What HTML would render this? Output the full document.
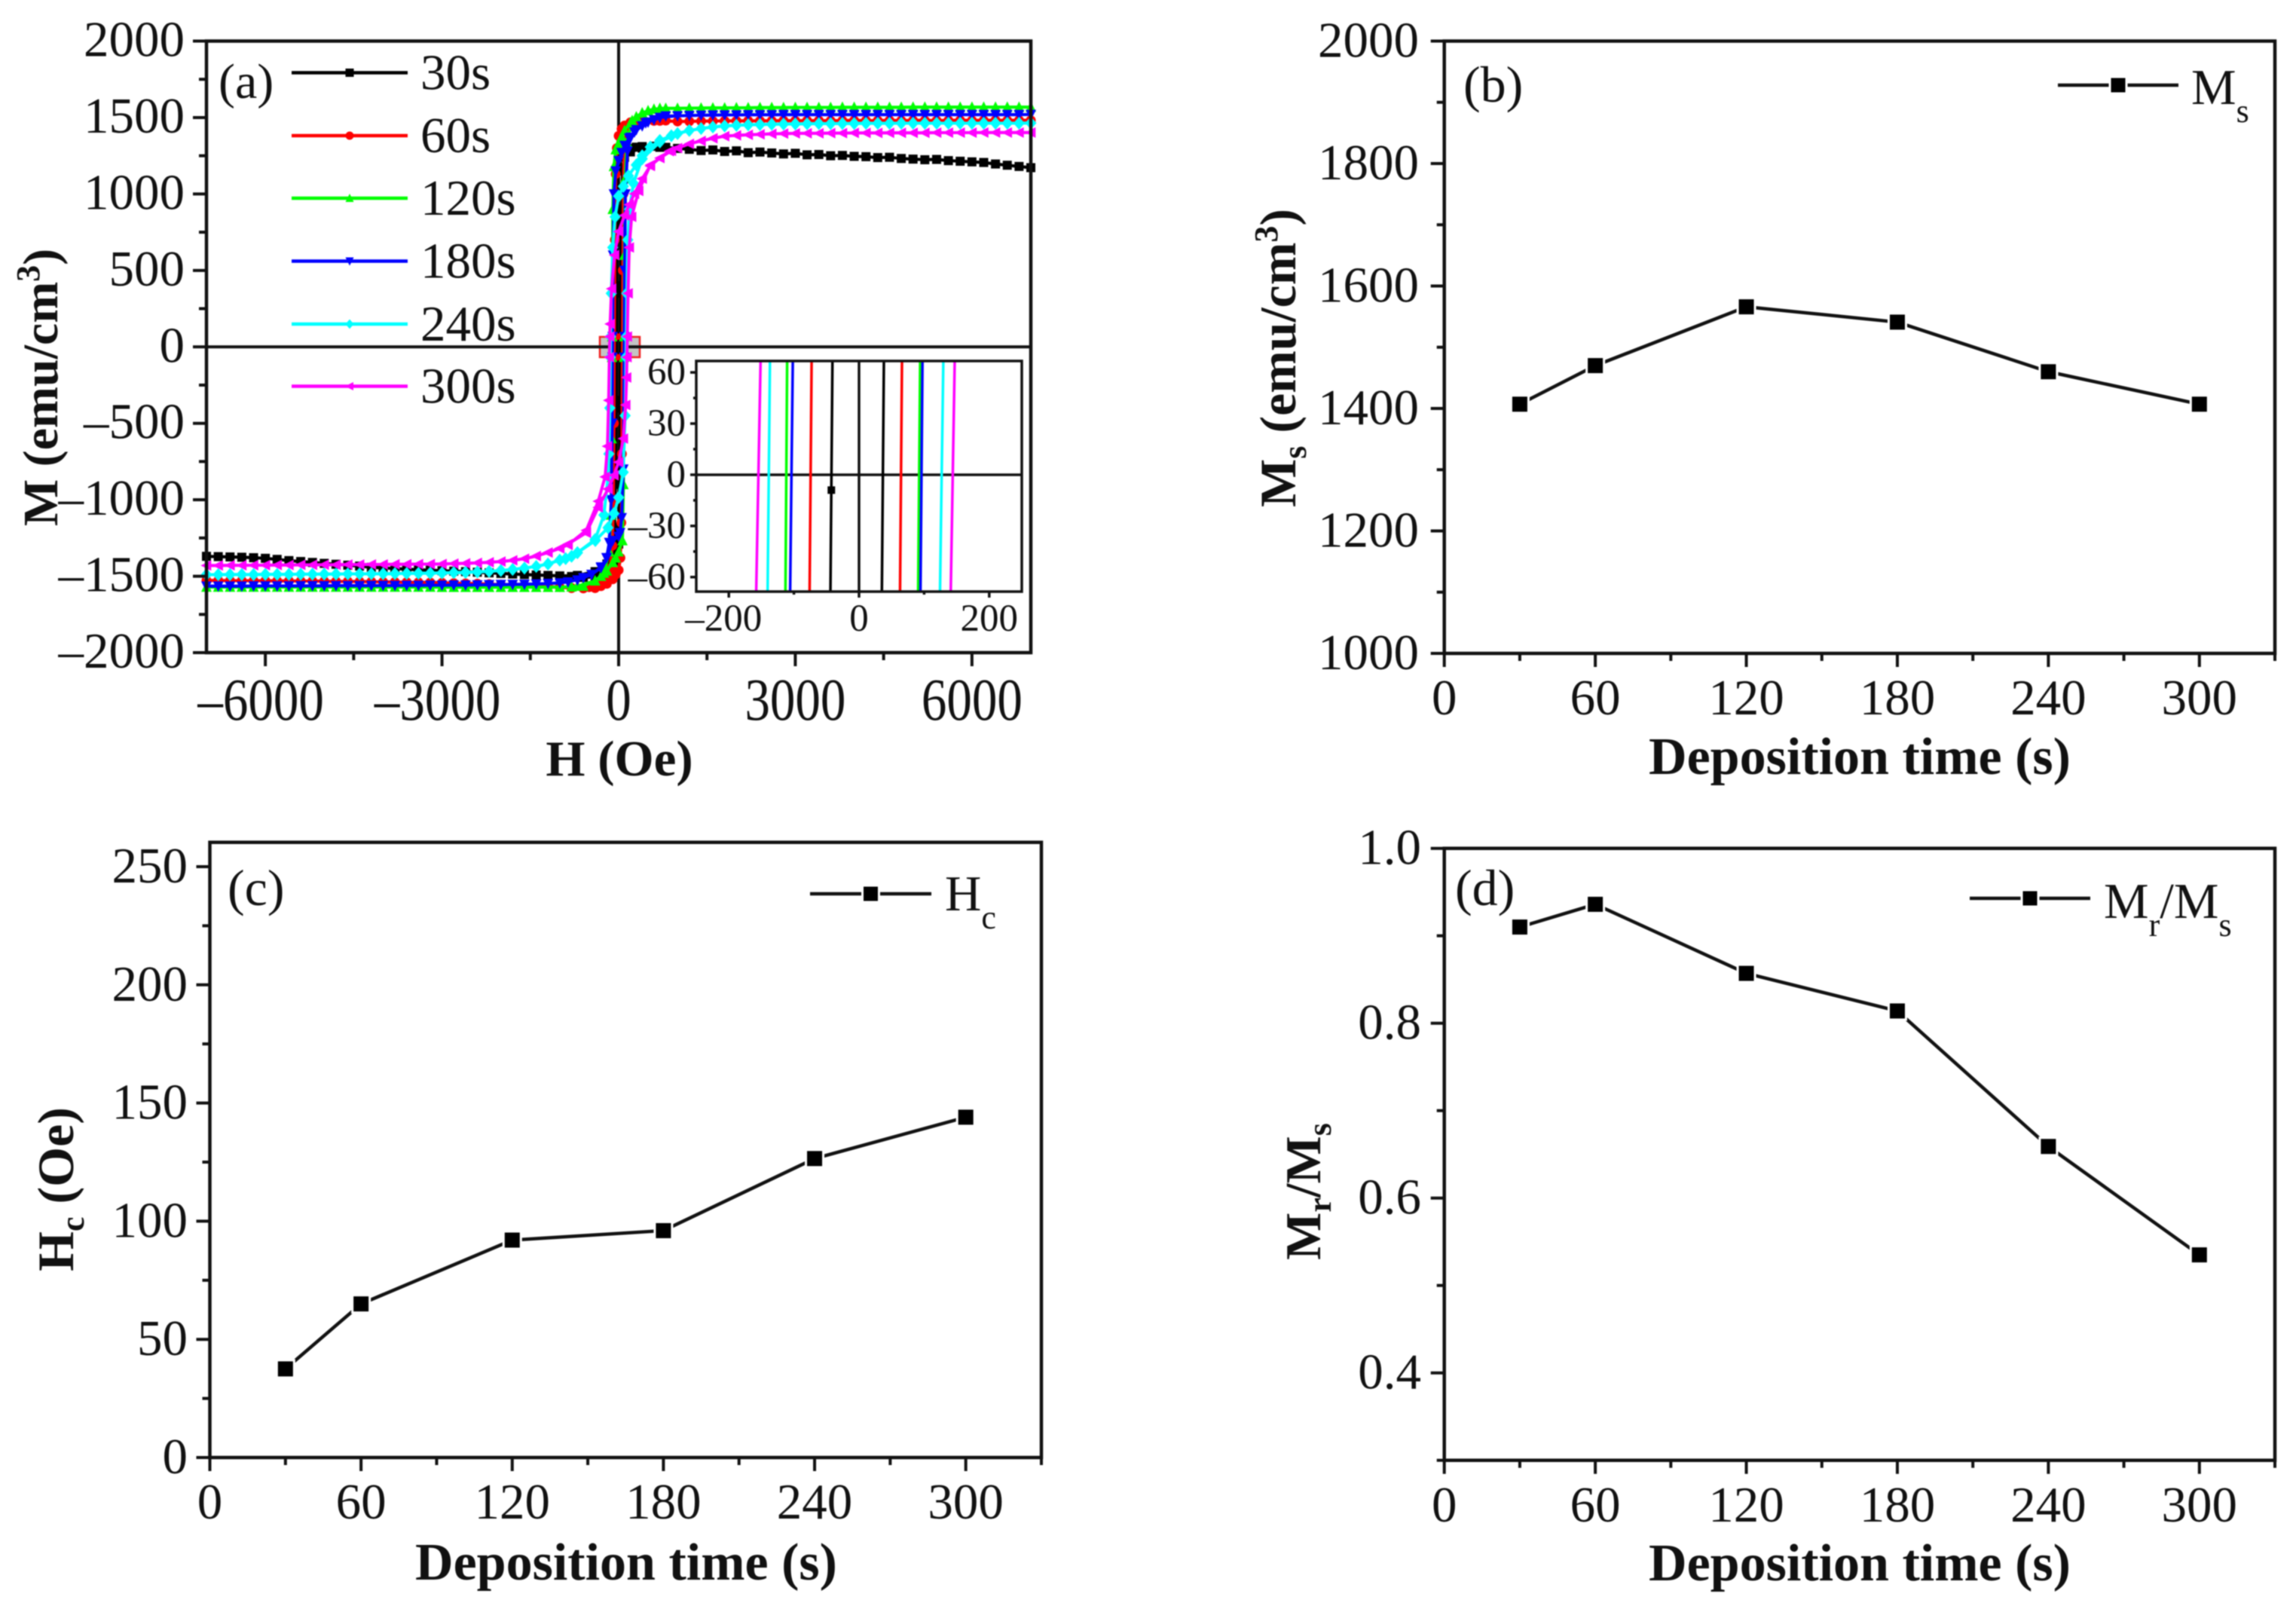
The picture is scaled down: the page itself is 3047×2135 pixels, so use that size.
<!DOCTYPE html>
<html lang="en">
<head>
<meta charset="utf-8">
<title>Magnetic properties versus deposition time</title>
<style>
html,body{margin:0;padding:0;background:#fff;width:3047px;height:2135px;overflow:hidden;}
svg{display:block;}
#figure{filter:blur(0.7px);}
text{font-family:"Liberation Serif","DejaVu Serif",serif;fill:#111;}
</style>
</head>
<body>
<svg id="figure" xmlns="http://www.w3.org/2000/svg" width="3047" height="2135" viewBox="0 0 3047 2135">
<rect x="0" y="0" width="3047" height="2135" fill="#fff"/>
<g id="panel-a"></g>
<g id="panel-b"></g>
<g id="panel-c"></g>
<g id="panel-d"></g>

<text transform="translate(76,514) rotate(-90)" text-anchor="middle" font-weight="bold" font-size="66">M (emu/cm<tspan dy="-24" font-size="44">3</tspan><tspan dy="24">)</tspan></text>
<text x="822" y="1029" text-anchor="middle" font-weight="bold" font-size="67">H (Oe)</text>
<text x="290" y="130" font-size="66">(a)</text>

<text transform="translate(1719,475) rotate(-90)" text-anchor="middle" font-weight="bold" font-size="68">M<tspan dy="14" font-size="44">s</tspan><tspan dy="-14"> (emu/cm</tspan><tspan dy="-24" font-size="44">3</tspan><tspan dy="24">)</tspan></text>
<text x="2468" y="1027" text-anchor="middle" font-weight="bold" font-size="70">Deposition time (s)</text>
<text x="1942" y="135" font-size="68">(b)</text>
<text x="2908" y="138" font-size="67">M<tspan dy="24" font-size="44">s</tspan></text>

<text transform="translate(97,1578) rotate(-90)" text-anchor="middle" font-weight="bold" font-size="68">H<tspan dy="14" font-size="44">c</tspan><tspan dy="-14"> (Oe)</tspan></text>
<text x="831" y="2096" text-anchor="middle" font-weight="bold" font-size="70">Deposition time (s)</text>
<text x="302" y="1201" font-size="68">(c)</text>
<text x="1254" y="1208" font-size="67">H<tspan dy="24" font-size="44">c</tspan></text>

<text transform="translate(1752,1581) rotate(-90)" text-anchor="middle" font-weight="bold" font-size="67">M<tspan dy="14" font-size="44">r</tspan><tspan dy="-14">/M</tspan><tspan dy="14" font-size="44">s</tspan></text>
<text x="2468" y="2097" text-anchor="middle" font-weight="bold" font-size="70">Deposition time (s)</text>
<text x="1931" y="1201" font-size="68">(d)</text>
<text x="2792" y="1218" font-size="67">M<tspan dy="24" font-size="44">r</tspan><tspan dy="-24">/M</tspan><tspan dy="24" font-size="44">s</tspan></text>
</svg>

<script>
/* ---------- panel (b)(c)(d) data ---------- */
const depositionTimes = [30, 60, 120, 180, 240, 300];
const msValues = [1407, 1470, 1566, 1541, 1460, 1407];
const hcValues = [37.5, 65, 92, 96, 126.5, 144];
const ratioValues = [0.91, 0.936, 0.857, 0.814, 0.659, 0.535];

const timeTicks = [0, 60, 120, 180, 240, 300];
const timeTickLabels = ['0', '60', '120', '180', '240', '300'];
const timeMinorTicks = [30, 90, 150, 210, 270, 330];

const msTicks = [1000, 1200, 1400, 1600, 1800, 2000];
const msTickLabels = ['1000', '1200', '1400', '1600', '1800', '2000'];
const msMinorTicks = [1100, 1300, 1500, 1700, 1900];

const hcTicks = [0, 50, 100, 150, 200, 250];
const hcTickLabels = ['0', '50', '100', '150', '200', '250'];
const hcMinorTicks = [25, 75, 125, 175, 225];

const ratioTicks = [0.4, 0.6, 0.8, 1.0];
const ratioTickLabels = ['0.4', '0.6', '0.8', '1.0'];
const ratioMinorTicks = [0.3, 0.5, 0.7, 0.9];

/* ---------- panel (a) axes data ---------- */
const fieldTicks = [-6000, -3000, 0, 3000, 6000];
const fieldTickLabels = ['–6000', '–3000', '0', '3000', '6000'];
const fieldMinorTicks = [-4500, -1500, 1500, 4500];
const momentTicks = [-2000, -1500, -1000, -500, 0, 500, 1000, 1500, 2000];
const momentTickLabels = ['–2000', '–1500', '–1000', '–500', '0', '500', '1000', '1500', '2000'];
const momentMinorTicks = [-1750, -1250, -750, -250, 250, 750, 1250, 1750];

const insetFieldTicks = [-200, 0, 200];
const insetFieldTickLabels = ['–200', '0', '200'];
const insetFieldMinorTicks = [-100, 100];
const insetMomentTicks = [-60, -30, 0, 30, 60];
const insetMomentTickLabels = ['–60', '–30', '0', '30', '60'];
const insetMomentMinorTicks = [-45, -15, 15, 45];
const insetMarkerPoint = [-42.5, -9];

/* ---------- panel (a) hysteresis data ---------- */
const sampleNames = ['30s', '60s', '120s', '180s', '240s', '300s'];

const satFieldPos = [1000,1200,1400,1600,1800,2000,2200,2400,2600,2800,3000,3200,3400,3600,3800,4000,4200,4400,4600,4800,5000,5200,5400,5600,5800,6000,6200,6400,6600,6800,7000];
const satFieldNeg = [-7000,-6800,-6600,-6400,-6200,-6000,-5800,-5600,-5400,-5200,-5000,-4800,-4600,-4400,-4200,-4000,-3800,-3600,-3400,-3200,-3000,-2800,-2600,-2400,-2200,-2000,-1800,-1600,-1400,-1200,-1000];

const satPos30 = [1298,1292,1284,1288,1278,1282,1270,1274,1268,1262,1266,1256,1258,1250,1252,1246,1244,1238,1240,1232,1228,1224,1226,1218,1214,1210,1206,1196,1188,1180,1172];
const satPos60 = [1474,1475,1476,1477,1478,1478,1479,1478,1479,1480,1479,1480,1480,1479,1480,1481,1480,1480,1481,1480,1481,1481,1480,1481,1482,1481,1481,1482,1481,1482,1482];
const satPos120 = [1560,1561,1562,1563,1563,1564,1564,1565,1565,1565,1566,1566,1566,1566,1567,1567,1567,1567,1567,1567,1568,1568,1568,1568,1568,1568,1568,1568,1568,1568,1568];
const satPos180 = [1511,1513,1515,1516,1517,1517,1518,1518,1518,1519,1519,1519,1519,1519,1519,1519,1519,1519,1519,1519,1519,1519,1519,1519,1519,1519,1519,1519,1519,1519,1520];
const satPos240 = [1395,1415,1428,1438,1445,1449,1452,1454,1456,1457,1458,1459,1460,1460,1461,1461,1462,1462,1462,1463,1463,1463,1463,1463,1463,1463,1463,1463,1463,1463,1464];
const satPos300 = [1300,1328,1347,1364,1378,1383,1387,1390,1393,1395,1396,1397,1397,1398,1398,1399,1399,1399,1400,1400,1400,1400,1401,1401,1401,1401,1402,1402,1402,1402,1402];

const satNeg30 = [-1370,-1372,-1374,-1376,-1379,-1383,-1390,-1398,-1404,-1410,-1416,-1422,-1428,-1434,-1442,-1446,-1450,-1454,-1458,-1461,-1464,-1467,-1470,-1474,-1478,-1482,-1486,-1489,-1492,-1495,-1498];
const satNeg60 = [-1528,-1528,-1529,-1529,-1530,-1530,-1531,-1531,-1532,-1532,-1533,-1534,-1534,-1535,-1536,-1537,-1538,-1539,-1540,-1541,-1543,-1545,-1547,-1549,-1552,-1555,-1558,-1561,-1564,-1568,-1572];
const satNeg120 = [-1571,-1571,-1571,-1571,-1571,-1571,-1571,-1571,-1571,-1571,-1571,-1571,-1571,-1571,-1571,-1571,-1571,-1571,-1571,-1571,-1572,-1572,-1572,-1572,-1572,-1572,-1572,-1572,-1572,-1572,-1572];
const satNeg180 = [-1565,-1565,-1565,-1565,-1564,-1564,-1564,-1564,-1563,-1563,-1563,-1562,-1562,-1562,-1561,-1561,-1561,-1560,-1560,-1559,-1559,-1558,-1558,-1557,-1556,-1555,-1554,-1553,-1551,-1548,-1544];
const satNeg240 = [-1490,-1490,-1489,-1489,-1489,-1488,-1488,-1488,-1487,-1487,-1486,-1486,-1485,-1485,-1484,-1484,-1483,-1482,-1481,-1480,-1479,-1477,-1475,-1472,-1468,-1463,-1456,-1447,-1436,-1420,-1395];
const satNeg300 = [-1430,-1430,-1429,-1429,-1428,-1428,-1427,-1427,-1426,-1426,-1425,-1425,-1424,-1424,-1423,-1423,-1422,-1422,-1421,-1421,-1420,-1418,-1416,-1413,-1409,-1404,-1396,-1386,-1368,-1345,-1318];

const loopUpper30 = [[800,1305],[600,1312],[400,1310],[300,1306],[200,1298],[100,1285],[50,1282],[0,1278],[-20,1180],[-32,800],[-38,350],[-40.8,67],[-43.9,-68],[-47,-400],[-55,-900],[-70,-1200],[-100,-1330],[-200,-1420],[-400,-1470],[-700,-1495]];
const loopLower30 = [[-800,-1502],[-600,-1508],[-400,-1505],[-300,-1500],[-200,-1480],[-100,-1420],[-50,-1370],[0,-1290],[15,-1180],[27,-800],[33,-350],[35.1,-68],[38.2,67],[41,400],[50,900],[65,1150],[100,1240],[200,1275],[400,1300],[700,1305]];
const loopUpper60 = [[800,1480],[600,1478],[400,1476],[300,1472],[200,1468],[100,1448],[50,1425],[0,1380],[-30,1300],[-50,1130],[-65,700],[-72.8,67],[-75.9,-68],[-80,-500],[-90,-1000],[-105,-1300],[-150,-1450],[-200,-1510],[-300,-1550],[-500,-1572],[-800,-1576]];
const loopLower60 = [[-800,-1578],[-600,-1580],[-400,-1578],[-300,-1565],[-200,-1550],[-100,-1520],[-50,-1490],[0,-1460],[30,-1380],[45,-1150],[55,-700],[63,-68],[66,67],[71,500],[80,1000],[95,1300],[140,1440],[200,1468],[400,1474],[700,1478]];
const loopUpper120 = [[800,1560],[600,1555],[500,1545],[400,1530],[300,1505],[200,1465],[100,1415],[50,1375],[0,1331],[-50,1290],[-80,1180],[-100,900],[-110.4,67],[-113,-68],[-118,-600],[-130,-1100],[-160,-1340],[-250,-1480],[-400,-1530],[-700,-1565]];
const loopLower120 = [[-800,-1570],[-600,-1565],[-400,-1530],[-300,-1500],[-200,-1465],[-100,-1410],[-50,-1380],[0,-1340],[64,-1267],[82,-900],[90.8,-68],[93.9,67],[98,600],[110,1100],[140,1340],[230,1480],[400,1530],[700,1560]];
const loopUpper180 = [[800,1510],[600,1485],[500,1470],[400,1445],[268,1405],[180,1365],[102,1317],[50,1270],[0,1218],[-50,1150],[-80,1000],[-95,600],[-101.7,67],[-105.8,-68],[-110,-500],[-125,-1000],[-160,-1280],[-205,-1380],[-300,-1445],[-460,-1489],[-700,-1525]];
const loopLower180 = [[-860,-1538],[-600,-1510],[-460,-1489],[-300,-1440],[-205,-1380],[-100,-1267],[0,-1240],[25,-1216],[51,-1118],[80,-800],[94.4,-68],[97.5,67],[102,500],[115,1000],[150,1280],[205,1370],[300,1420],[460,1465],[700,1500]];
const loopUpper240 = [[895,1381],[700,1350],[537,1307],[400,1250],[300,1190],[166,1119],[80,1050],[0,986],[-60,850],[-100,650],[-125,350],[-136.8,67],[-140.4,-68],[-150,-400],[-165,-700],[-180,-850],[-250,-1100],[-400,-1260],[-700,-1346],[-900,-1385]];
const loopLower240 = [[-800,-1370],[-700,-1346],[-396,-1267],[-180,-1183],[-80,-1090],[0,-985],[77,-820],[110,-450],[124.4,-68],[129.5,67],[138,350],[155,700],[185,900],[250,1070],[400,1230],[700,1340]];
const loopUpper300 = [[895,1282],[700,1235],[537,1183],[400,1100],[268,1001],[180,930],[100,860],[0,754],[-70,600],[-120,380],[-145,150],[-151.2,67],[-157.9,-68],[-170,-350],[-190,-650],[-230,-850],[-347,-1010],[-550,-1200],[-860,-1295]];
const loopLower300 = [[-860,-1290],[-550,-1216],[-347,-1050],[-180,-930],[-80,-840],[0,-754],[80,-600],[120,-380],[135,-200],[140.9,-68],[147,67],[160,350],[180,650],[220,850],[340,1020],[540,1190],[860,1280]];

const satPosSeries = [satPos30, satPos60, satPos120, satPos180, satPos240, satPos300];
const satNegSeries = [satNeg30, satNeg60, satNeg120, satNeg180, satNeg240, satNeg300];
const loopUpperSeries = [loopUpper30, loopUpper60, loopUpper120, loopUpper180, loopUpper240, loopUpper300];
const loopLowerSeries = [loopLower30, loopLower60, loopLower120, loopLower180, loopLower240, loopLower300];
const sampleColors = ['#000000', '#ff0000', '#00ff00', '#0000ff', '#00ffff', '#ff00ff'];
const sampleShapes = ['square', 'circle', 'up', 'down', 'diamond', 'left'];

/* ---------- helpers ---------- */
const SVG_NS = document.getElementById('figure').namespaceURI;
const INK = '#111';
const MARKER_SIZE = {square: 12, circle: 13, up: 14, down: 14, diamond: 15, left: 14};

function linear(d0, d1, r0, r1) {
  return function (v) { return r0 + (v - d0) * (r1 - r0) / (d1 - d0); };
}
function create(tag, attrs, parent) {
  const el = document.createElementNS(SVG_NS, tag);
  for (const k in attrs) el.setAttribute(k, attrs[k]);
  parent.appendChild(el);
  return el;
}
function drawLine(parent, name, x1, y1, x2, y2, width, color) {
  const el = create('line', {x1: x1, y1: y1, x2: x2, y2: y2, stroke: color || INK, 'stroke-width': width}, parent);
  
  
  return el;
}
function drawText(parent, name, x, y, str, size, anchor, stretch) {
  const el = create('text', {'font-size': size, 'text-anchor': anchor, transform: 'translate(' + x + ',' + y + ') scale(1,' + (stretch || 1) + ')'}, parent);
  el.textContent = str;
  
  
  return el;
}
function drawFrame(parent, name, x0, y0, x1, y1, width, fill) {
  const el = create('rect', {x: x0, y: y0, width: x1 - x0, height: y1 - y0, fill: fill || 'none', stroke: INK, 'stroke-width': width}, parent);
  
  
  return el;
}
function drawPolyline(parent, name, pts, color, width) {
  const el = create('polyline', {points: pts.map(function (p) { return p[0].toFixed(2) + ',' + p[1].toFixed(2); }).join(' '), fill: 'none', stroke: color, 'stroke-width': width, 'stroke-linejoin': 'round'}, parent);
  
  
  return el;
}
function drawMarker(parent, name, shape, cx, cy, s, color, halo) {
  let el;
  const h = s / 2;
  if (shape === 'square') {
    el = create('rect', {x: cx - h, y: cy - h, width: s, height: s, fill: color}, parent);
  } else if (shape === 'circle') {
    el = create('circle', {cx: cx, cy: cy, r: h, fill: color}, parent);
  } else {
    let p;
    if (shape === 'up') p = [[cx, cy - h * 1.1], [cx + h, cy + h * 0.9], [cx - h, cy + h * 0.9]];
    else if (shape === 'down') p = [[cx, cy + h * 1.1], [cx + h, cy - h * 0.9], [cx - h, cy - h * 0.9]];
    else if (shape === 'left') p = [[cx - h * 1.1, cy], [cx + h * 0.9, cy - h], [cx + h * 0.9, cy + h]];
    else p = [[cx, cy - h * 1.15], [cx + h, cy], [cx, cy + h * 1.15], [cx - h, cy]];
    el = create('polygon', {points: p.map(function (q) { return q[0].toFixed(2) + ',' + q[1].toFixed(2); }).join(' '), fill: color}, parent);
  }
  if (halo) {
    el.setAttribute('stroke', '#fff');
    el.setAttribute('stroke-width', halo);
  }
  
  
  return el;
}
function drawAxes(parent, prefix, o) {
  o.xMajor.forEach(function (v, i) {
    const x = o.sx(v);
    drawLine(parent, prefix + '-x-tick', x, o.bottom, x, o.bottom + o.majorLen, o.tickWidth);
    const lab = o.xLabels[i];
    const shift = lab.charAt(0) === '–' ? o.dashShift : 0;
    drawText(parent, prefix + '-x-tick-label', x + shift, o.xBaseline, lab, o.fontSize, 'middle', o.xStretch);
  });
  o.xMinor.forEach(function (v) {
    const x = o.sx(v);
    drawLine(parent, prefix + '-x-minor-tick', x, o.bottom, x, o.bottom + o.minorLen, o.tickWidth);
  });
  o.yMajor.forEach(function (v, i) {
    const y = o.sy(v);
    drawLine(parent, prefix + '-y-tick', o.left - o.majorLen, y, o.left, y, o.tickWidth);
    drawText(parent, prefix + '-y-tick-label', o.labelRight, y + o.labelDy, o.yLabels[i], o.fontSize, 'end');
  });
  o.yMinor.forEach(function (v) {
    const y = o.sy(v);
    drawLine(parent, prefix + '-y-minor-tick', o.left - o.minorLen, y, o.left, y, o.tickWidth);
  });
}
/* keep only the parts of a loop branch that fall inside the inset's moment window */
function clipBranch(loop, lo, hi) {
  const out = [];
  for (let i = 0; i < loop.length - 1; i++) {
    const a = loop[i], b = loop[i + 1];
    if ((a[1] > hi && b[1] > hi) || (a[1] < lo && b[1] < lo)) continue;
    let t0 = 0, t1 = 1;
    const d = b[1] - a[1];
    if (d !== 0) {
      const tl = (lo - a[1]) / d, th = (hi - a[1]) / d;
      t0 = Math.max(0, Math.min(tl, th));
      t1 = Math.min(1, Math.max(tl, th));
    }
    if (t0 > t1) continue;
    out.push([a[0] + (b[0] - a[0]) * t0, a[1] + d * t0]);
    out.push([a[0] + (b[0] - a[0]) * t1, a[1] + d * t1]);
  }
  return out;
}
function drawTrendPanel(id, prefix, box, yDomain, series, yMajor, yLabels, yMinor, labelRight, xBaseline, legend) {
  const parent = document.getElementById(id);
  const sx = linear(0, 330, box.left, box.right);
  const sy = linear(yDomain[0], yDomain[1], box.bottom, box.top);
  drawAxes(parent, prefix, {
    sx: sx, sy: sy, left: box.left, bottom: box.bottom,
    xMajor: timeTicks, xLabels: timeTickLabels, xMinor: timeMinorTicks,
    yMajor: yMajor, yLabels: yLabels, yMinor: yMinor,
    majorLen: 18, minorLen: 10, tickWidth: 4, fontSize: 67, dashShift: 0,
    xBaseline: xBaseline, labelRight: labelRight, labelDy: 21
  });
  drawFrame(parent, prefix + '-plot-frame', box.left, box.top, box.right, box.bottom, 4.5);
  const pts = depositionTimes.map(function (t, i) { return [sx(t), sy(series[i])]; });
  drawPolyline(parent, prefix + '-series-line', pts, INK, 4.5);
  pts.forEach(function (p) {
    drawMarker(parent, prefix + '-data-point', 'square', p[0], p[1], 23, '#000', 3);
  });
  drawLine(parent, prefix + '-legend-line', legend.x0, legend.y, legend.x1, legend.y, 4.5);
  drawMarker(parent, prefix + '-legend-marker', 'square', (legend.x0 + legend.x1) / 2, legend.y, 22, '#000', 3);
}

/* ---------- panel (a) ---------- */
(function () {
  const parent = document.getElementById('panel-a');
  const box = {left: 274, right: 1368, top: 54.5, bottom: 866};
  const sx = linear(-7000, 7000, box.left, box.right);
  const sy = linear(-2000, 2000, box.bottom, box.top);

  const highlight = create('rect', {x: 796, y: 447, width: 53, height: 27, fill: '#c4c4c4', stroke: '#f02020', 'stroke-width': 2.5}, parent);
  
  

  drawLine(parent, 'panel-a-zero-field-line', sx(0), box.top, sx(0), box.bottom, 4);
  drawLine(parent, 'panel-a-zero-moment-line', box.left, sy(0), box.right, sy(0), 4);

  sampleNames.forEach(function (name, i) {
    const group = create('g', {}, parent);
    
    
    const color = sampleColors[i];
    const shape = sampleShapes[i];
    const size = MARKER_SIZE[shape];
    const pos = satFieldPos.map(function (h, k) { return [h, satPosSeries[i][k]]; });
    const neg = satFieldNeg.map(function (h, k) { return [h, satNegSeries[i][k]]; });
    const upper = pos.slice().reverse().concat(loopUpperSeries[i], neg.slice().reverse());
    const lower = neg.concat(loopLowerSeries[i], pos);
    const toPx = function (p) { return [sx(p[0]), sy(p[1])]; };
    drawPolyline(group, 'series-' + name + '-upper-branch', upper.map(toPx), color, 4);
    drawPolyline(group, 'series-' + name + '-lower-branch', lower.map(toPx), color, 4);
    pos.concat(neg, loopUpperSeries[i], loopLowerSeries[i]).forEach(function (p) {
      drawMarker(group, 'series-' + name + '-marker', shape, sx(p[0]), sy(p[1]), size, color);
    });
  });

  drawAxes(parent, 'panel-a', {
    sx: sx, sy: sy, left: box.left, bottom: box.bottom,
    xMajor: fieldTicks, xLabels: fieldTickLabels, xMinor: fieldMinorTicks,
    yMajor: momentTicks, yLabels: momentTickLabels, yMinor: momentMinorTicks,
    majorLen: 18, minorLen: 10, tickWidth: 4, fontSize: 67, dashShift: -6,
    xBaseline: 955, xStretch: 1.18, labelRight: 245, labelDy: 20
  });
  drawFrame(parent, 'panel-a-plot-frame', box.left, box.top, box.right, box.bottom, 4.5);

  /* legend */
  const legendY = [96.5, 180, 263, 346.5, 430, 512.5];
  sampleNames.forEach(function (name, i) {
    drawLine(parent, 'legend-line-' + name, 387, legendY[i], 541, legendY[i], 4.5, sampleColors[i]);
    drawMarker(parent, 'legend-marker-' + name, sampleShapes[i], 464, legendY[i], 11, sampleColors[i]);
    drawText(parent, 'legend-label-' + name, 558, legendY[i] + 22, name, 67, 'start');
  });

  /* inset */
  const inset = {left: 924, right: 1356, top: 479, bottom: 785};
  const insetMomentMin = -68.5;
  const insetMomentMax = 66.7;
  const ix = linear(-250, 250, inset.left, inset.right);
  const iy = linear(insetMomentMin, insetMomentMax, inset.bottom, inset.top);
  const view = create('g', {}, parent);
  
  
  const insetBg = create('rect', {x: inset.left, y: inset.top, width: inset.right - inset.left, height: inset.bottom - inset.top, fill: '#fff'}, view);
  
  
  drawLine(view, 'inset-zero-field-line', ix(0), inset.top, ix(0), inset.bottom, 3.5);
  drawLine(view, 'inset-zero-moment-line', inset.left, iy(0), inset.right, iy(0), 3.5);
  sampleNames.forEach(function (name, i) {
    const toPx = function (p) { return [ix(p[0]), iy(p[1])]; };
    drawPolyline(view, 'inset-series-' + name + '-upper', clipBranch(loopUpperSeries[i], insetMomentMin, insetMomentMax).map(toPx), sampleColors[i], 3.5);
    drawPolyline(view, 'inset-series-' + name + '-lower', clipBranch(loopLowerSeries[i], insetMomentMin, insetMomentMax).map(toPx), sampleColors[i], 3.5);
  });
  drawMarker(view, 'inset-data-point', 'square', ix(insetMarkerPoint[0]), iy(insetMarkerPoint[1]), 10, '#000');
  drawAxes(parent, 'inset', {
    sx: ix, sy: iy, left: inset.left, bottom: inset.bottom,
    xMajor: insetFieldTicks, xLabels: insetFieldTickLabels, xMinor: insetFieldMinorTicks,
    yMajor: insetMomentTicks, yLabels: insetMomentTickLabels, yMinor: insetMomentMinorTicks,
    majorLen: 8, minorLen: 4, tickWidth: 3.5, fontSize: 51, dashShift: -7,
    xBaseline: 837, labelRight: 910, labelDy: 16
  });
  drawFrame(parent, 'inset-plot-frame', inset.left, inset.top, inset.right, inset.bottom, 3.5);
})();

/* ---------- panels (b)(c)(d) ---------- */
drawTrendPanel('panel-b', 'panel-b', {left: 1916.7, right: 3019, top: 54.5, bottom: 867}, [1000, 2000], msValues, msTicks, msTickLabels, msMinorTicks, 1883, 948, {x0: 2731, x1: 2891, y: 113});
drawTrendPanel('panel-c', 'panel-c', {left: 278.5, right: 1382, top: 1117.7, bottom: 1934}, [0, 260.3], hcValues, hcTicks, hcTickLabels, hcMinorTicks, 249, 2015, {x0: 1075, x1: 1236, y: 1186});
drawTrendPanel('panel-d', 'panel-d', {left: 1916.7, right: 3019, top: 1125.7, bottom: 1937.7}, [0.3, 1.0], ratioValues, ratioTicks, ratioTickLabels, ratioMinorTicks, 1886, 2019, {x0: 2614, x1: 2774, y: 1192});
</script>
</body>
</html>
